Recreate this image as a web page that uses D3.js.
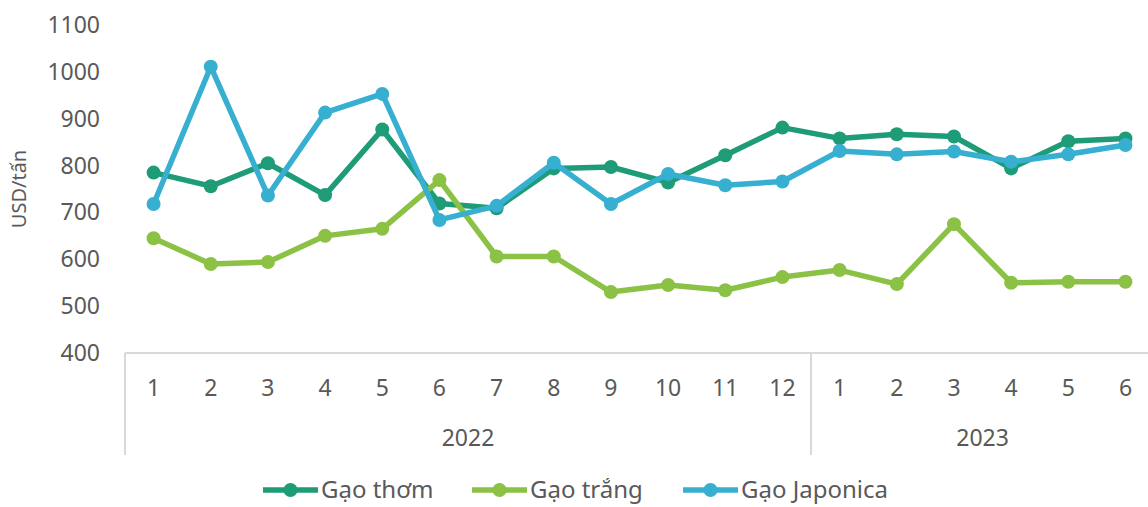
<!DOCTYPE html>
<html>
<head>
<meta charset="utf-8">
<script src="https://cdn.jsdelivr.net/npm/d3@7"></script>
<style>
  html, body { margin: 0; padding: 0; background: #fff; overflow: hidden; }
  text { font-family: "Noto Sans", "DejaVu Sans", sans-serif; fill: #595959; }
</style>
</head>
<body>
<svg id="chart" width="1148" height="507"></svg>
<script>
// thang / nam
var months = [1, 2, 3, 4, 5, 6, 7, 8, 9, 10, 11, 12, 1, 2, 3, 4, 5, 6];
var years = [2022, 2022, 2022, 2022, 2022, 2022, 2022, 2022, 2022, 2022, 2022, 2022,
             2023, 2023, 2023, 2023, 2023, 2023];
var yTicks = [400, 500, 600, 700, 800, 900, 1000, 1100];

// gia xuat khau (USD/tan)
var gaoThom = [785, 756, 805, 737, 877, 719, 709, 794, 797, 764, 822, 881,
               858, 867, 862, 794, 852, 858];
var gaoTrang = [645, 590, 594, 650, 665, 769, 606, 606, 530, 545, 534, 562,
                577, 547, 675, 550, 552, 552];
var gaoJaponica = [718, 1011, 736, 913, 953, 684, 714, 806, 718, 782, 758, 766,
                   831, 824, 830, 808, 824, 844];

var seriesNames = ["Gạo thơm", "Gạo trắng", "Gạo Japonica"];
var seriesColors = ["#1e9b77", "#8bc145", "#37afd0"];

var svg = d3.select("#chart");
var plotLeft = 125, plotBottom = 353, plotTop = 25;

var idx = d3.range(months.length);
var x = d3.scaleBand()
    .domain(idx)
    .range([plotLeft, plotLeft + 57.17 * months.length])
    .paddingInner(0).paddingOuter(0);
var bw = x.bandwidth();
var cx = function (i) { return x(i) + bw / 2; };

var y = d3.scaleLinear().domain([400, 1100]).range([plotBottom, plotTop]);

// truc y: chi co nhan
svg.append("g")
    .selectAll("text")
    .data(yTicks)
    .enter()
    .append("text")
    .attr("x", 100)
    .attr("y", function (d) { return y(d); })
    .attr("dy", "0.35em")
    .attr("text-anchor", "end")
    .style("font-size", "23px")
    .text(function (d) { return d; });

svg.append("text")
    .attr("transform", "translate(19," + (plotTop + plotBottom) / 2 + ") rotate(-90)")
    .attr("text-anchor", "middle")
    .attr("dy", "0.35em")
    .style("font-size", "20px")
    .text("USD/tấn");

// truc x
var axisColor = "#d9d9d9";
svg.append("line")
    .attr("x1", plotLeft).attr("x2", 1148)
    .attr("y1", plotBottom).attr("y2", plotBottom)
    .attr("stroke", axisColor).attr("stroke-width", 2);

// duong phan cach theo nam
var yearGroups = d3.groups(idx, function (i) { return years[i]; });
var sepX = [plotLeft];
yearGroups.forEach(function (g) {
    sepX.push(x(g[1][g[1].length - 1]) + bw);
});
svg.append("g")
    .selectAll("line")
    .data(sepX)
    .enter()
    .append("line")
    .attr("x1", function (d) { return d; })
    .attr("x2", function (d) { return d; })
    .attr("y1", plotBottom).attr("y2", 455)
    .attr("stroke", axisColor).attr("stroke-width", 2);

svg.append("g")
    .selectAll("text")
    .data(idx)
    .enter()
    .append("text")
    .attr("x", cx)
    .attr("y", 388)
    .attr("dy", "0.35em")
    .attr("text-anchor", "middle")
    .style("font-size", "23px")
    .text(function (i) { return months[i]; });

svg.append("g")
    .selectAll("text")
    .data(yearGroups)
    .enter()
    .append("text")
    .attr("x", function (g) {
        var a = g[1][0], b = g[1][g[1].length - 1];
        return (x(a) + x(b) + bw) / 2;
    })
    .attr("y", 438)
    .attr("dy", "0.35em")
    .attr("text-anchor", "middle")
    .style("font-size", "23px")
    .text(function (g) { return g[0]; });

// cac duong
var allSeries = [gaoThom, gaoTrang, gaoJaponica];
var line = d3.line()
    .x(function (d, i) { return cx(i); })
    .y(function (d) { return y(d); });

allSeries.forEach(function (vals, k) {
    var g = svg.append("g");
    g.append("path")
        .datum(vals)
        .attr("d", line)
        .attr("fill", "none")
        .attr("stroke", seriesColors[k])
        .attr("stroke-width", 5.5)
        .attr("stroke-linejoin", "round");
    g.selectAll("circle")
        .data(vals)
        .enter()
        .append("circle")
        .attr("cx", function (d, i) { return cx(i); })
        .attr("cy", function (d) { return y(d); })
        .attr("r", 7)
        .attr("fill", seriesColors[k]);
});

// chu giai
var legendX = [263, 472, 683];
var legend = svg.append("g")
    .selectAll("g")
    .data(seriesNames)
    .enter()
    .append("g")
    .attr("transform", function (d, i) { return "translate(" + legendX[i] + ",490)"; });
legend.append("line")
    .attr("x1", 0).attr("x2", 55)
    .attr("stroke", function (d, i) { return seriesColors[i]; })
    .attr("stroke-width", 5.5);
legend.append("circle")
    .attr("cx", 27.5).attr("r", 7)
    .attr("fill", function (d, i) { return seriesColors[i]; });
legend.append("text")
    .attr("x", 58)
    .attr("dy", "0.35em")
    .style("font-size", "24px")
    .text(function (d) { return d; });
</script>
</body>
</html>
